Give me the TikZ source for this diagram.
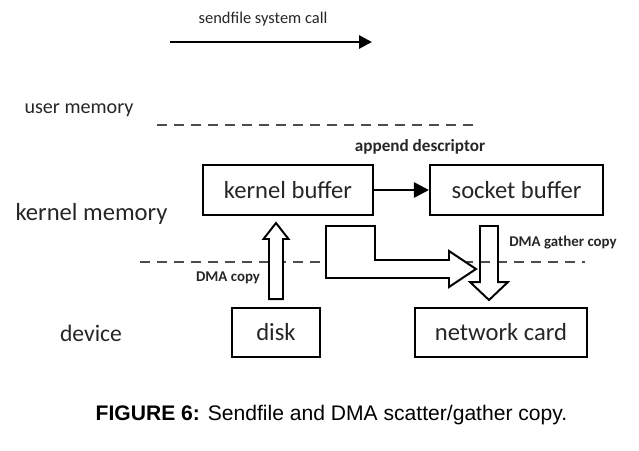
\documentclass[tikz,border=0pt]{standalone}
\usepackage{fontspec}
\setmainfont{Carlito}
\newfontfamily\captionfont{Liberation Sans}
\usetikzlibrary{arrows.meta,calc}
\tikzstyle{buffer}=[draw, line width=1.4pt, inner sep=0pt, text=black!85, font=\fontsize{17.5}{20}\selectfont]
\tikzstyle{region}=[text=black!85, font=\fontsize{17.5}{20}\selectfont]
\tikzstyle{small}=[text=black!85, font=\bfseries\fontsize{10.6}{12}\selectfont]
\tikzstyle{boundary}=[dash pattern=on 0.25cm off 0.175cm, line width=2pt, black!70]
\tikzstyle{hollow}=[draw, line width=1.4pt, fill=white, line join=miter]

\begin{document}
\begin{tikzpicture}[x=0.025cm, y=-0.025cm]
        \useasboundingbox (0,0) rectangle (639,450);

        % Llamada al sistema
        \node[text=black!85, font=\fontsize{11.7}{14}\selectfont] (call) at (263,19) {sendfile system call};
        \coordinate (callA) at (170,42);
        \coordinate (callB) at (372,42);
        \draw[line width=2pt, -{Triangle[length=0.32cm, width=0.32cm]}] (callA) -- (callB);

        % Zonas de memoria
        \node[region, font=\fontsize{14.3}{17}\selectfont] (user) at (79,110) {user memory};
        \node[region] (kmem) at (91.5,214) {kernel memory};
        \node[region, font=\fontsize{16.8}{19}\selectfont] (dev) at (91,333) {device};

        \coordinate (u1) at (157,125);
        \coordinate (u2) at (473,125);
        \coordinate (k1) at (140,262);
        \coordinate (k2) at (585,262);
        \draw[boundary] (u1) -- (u2);
        \draw[boundary] (k1) -- (k2);

        % Buffers y dispositivos
        \node[buffer, minimum width=4.25cm, minimum height=1.25cm] (kbuf) at (288,190) {kernel buffer};
        \node[buffer, minimum width=4.325cm, minimum height=1.25cm] (sbuf) at (516.5,190) {socket buffer};
        \node[buffer, minimum width=2.2cm, minimum height=1.225cm] (disk) at (276,332.5) {disk};
        \node[buffer, minimum width=4.3cm, minimum height=1.225cm] (ncard) at (501,332.5) {network card};

        % Descriptor
        \draw[line width=1.8pt, -{Triangle[length=0.375cm, width=0.375cm]}] (kbuf) -- (sbuf);
        \node[small, font=\bfseries\fontsize{12.2}{14}\selectfont] (desc) at (420,147) {append descriptor};

        % DMA copy (disco -> kernel buffer)
        \coordinate (upA) at ($(disk.north)+(0,-8)$);
        \coordinate (upB) at ($(disk.north |- kbuf.south)+(0,7)$);
        \draw[hollow] ($(upA)+(-7,0)$) -- ($(upB)+(-7,16)$) -- ($(upB)+(-12.5,16)$) -- (upB)
            -- ($(upB)+(12.5,16)$) -- ($(upB)+(7,16)$) -- ($(upA)+(7,0)$) -- cycle;
        \node[small] (dmacopy) at (228,278) {DMA copy};

        % Flecha doblada (kernel buffer -> network card)
        \coordinate (bentA) at ($(kbuf.south east)+(-48,10)$);
        \draw[hollow] (bentA) -- ++(49,0) -- ++(0,34) -- ++(74,0) -- ++(0,-9) -- ++(27,18)
            -- ++(-27,18) -- ++(0,-9) -- ++(-123,0) -- cycle;

        % DMA gather copy (socket buffer -> network card)
        \coordinate (dnA) at ($(sbuf.south)+(-27.5,10)$);
        \coordinate (dnB) at ($(ncard.north)+(-12,-7)$);
        \draw[hollow, fill=none] ($(dnA)+(-9,0)$) -- ($(dnB)+(-9,-18)$) -- ($(dnB)+(-19,-18)$) -- (dnB)
            -- ($(dnB)+(19,-18)$) -- ($(dnB)+(9,-18)$) -- ($(dnA)+(9,0)$) -- cycle;
        \node[small] (gather) at (563,243) {DMA gather copy};

        % Pie de figura
        \node[font=\captionfont\fontsize{15}{18}\selectfont] (caption) at (331.5,415)
            {\textbf{FIGURE 6:} Sendfile and DMA scatter/gather copy.};
\end{tikzpicture}
\end{document}
